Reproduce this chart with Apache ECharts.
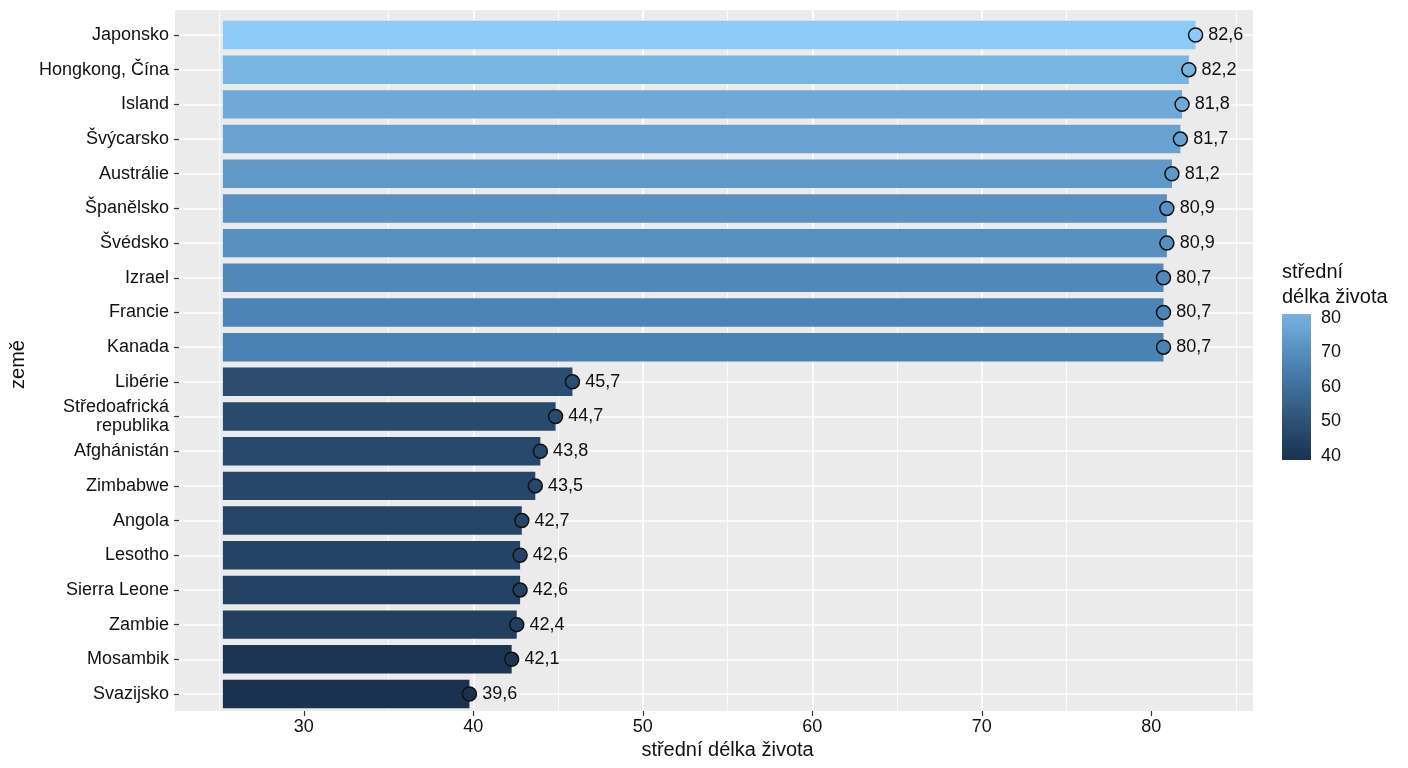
<!DOCTYPE html>
<html>
<head>
<meta charset="utf-8">
<title>střední délka života</title>
<script src="https://cdn.jsdelivr.net/npm/echarts@6/dist/echarts.min.js"></script>
<style>
  html, body { margin: 0; padding: 0; background: #fff; }
  #chart { width: 1408px; height: 768px; }
</style>
</head>
<body>
<div id="chart"></div>
<script>
// data
const countries = ['Japonsko', 'Hongkong, Čína', 'Island', 'Švýcarsko', 'Austrálie', 'Španělsko',
  'Švédsko', 'Izrael', 'Francie', 'Kanada', 'Libérie', 'Středoafrická\nrepublika', 'Afghánistán',
  'Zimbabwe', 'Angola', 'Lesotho', 'Sierra Leone', 'Zambie', 'Mosambik', 'Svazijsko']
const lifeExp = [82.6, 82.2, 81.8, 81.7, 81.2, 80.9, 80.9, 80.7, 80.7, 80.7,
  45.7, 44.7, 43.8, 43.5, 42.7, 42.6, 42.6, 42.4, 42.1, 39.6]
// fill value of each bar, estimated from its colour against the legend
const barFill = [88.4, 81.9, 78.4, 76.0, 73.3, 71.1, 70.3, 68.1, 66.6, 65.9,
  48.2, 47.2, 46.5, 46.1, 45.4, 44.9, 44.0, 43.3, 39.2, 38.5]
const xTicks = [30, 40, 50, 60, 70, 80]
const legendTicks = [40, 50, 60, 70, 80]
const legendRange = [38.7, 81.2]
const barStart = 25

// layout
const font = 'Liberation Sans, Arial, Helvetica, sans-serif'
const textColor = '#111'
const plotLeft = 175, plotRight = 1253
const xMin = 22.4, xMax = 86
const pxPerUnit = (plotRight - plotLeft) / (xMax - xMin)
const axisMin = 20, axisMax = 90
const axisLeft = plotLeft - (xMin - axisMin) * pxPerUnit
const axisWidth = (axisMax - axisMin) * pxPerUnit

// colour ramp, interpolated in Lab
const rampStops = [[38.7, '#1A3350'], [66, '#4A82B3'], [82, '#78B5E2'], [88.4, '#8DCBF6']]
function hexToRgb(h) { return [1, 3, 5].map(i => parseInt(h.substr(i, 2), 16)) }
function toLin(c) { c /= 255; return c <= 0.04045 ? c / 12.92 : Math.pow((c + 0.055) / 1.055, 2.4) }
function fromLin(c) {
  const v = c <= 0.0031308 ? 12.92 * c : 1.055 * Math.pow(Math.max(c, 0), 1 / 2.4) - 0.055
  return Math.round(Math.max(0, Math.min(1, v)) * 255)
}
function rgbToLab(rgb) {
  const [r, g, b] = rgb.map(toLin)
  const x = (0.4124 * r + 0.3576 * g + 0.1805 * b) / 0.95047
  const y = 0.2126 * r + 0.7152 * g + 0.0722 * b
  const z = (0.0193 * r + 0.1192 * g + 0.9505 * b) / 1.08883
  const f = t => t > 0.008856 ? Math.cbrt(t) : 7.787 * t + 16 / 116
  const fx = f(x), fy = f(y), fz = f(z)
  return [116 * fy - 16, 500 * (fx - fy), 200 * (fy - fz)]
}
function labToRgb(lab) {
  const fy = (lab[0] + 16) / 116, fx = fy + lab[1] / 500, fz = fy - lab[2] / 200
  const inv = t => t * t * t > 0.008856 ? t * t * t : (t - 16 / 116) / 7.787
  const x = inv(fx) * 0.95047, y = inv(fy), z = inv(fz) * 1.08883
  const r = 3.2406 * x - 1.5372 * y - 0.4986 * z
  const g = -0.9689 * x + 1.8758 * y + 0.0415 * z
  const b = 0.0557 * x - 0.2040 * y + 1.0570 * z
  return [r, g, b].map(fromLin)
}
const rampLab = rampStops.map(s => [s[0], rgbToLab(hexToRgb(s[1]))])
function fillColor(v) {
  let k = 0
  while (k < rampLab.length - 2 && v > rampLab[k + 1][0]) k++
  const [v0, l0] = rampLab[k], [v1, l1] = rampLab[k + 1]
  const t = (v - v0) / (v1 - v0)
  const rgb = labToRgb(l0.map((c, i) => c + (l1[i] - c) * t))
  return 'rgb(' + rgb.join(',') + ')'
}

const rows = lifeExp.map((v, i) => [v, i, barFill[i]])

const chart = echarts.init(document.getElementById('chart'))
chart.setOption({
  animation: false,
  textStyle: { fontFamily: font },
  title: {
    text: 'střední\ndélka života',
    left: 1282,
    top: 260,
    padding: 0,
    textStyle: { fontFamily: font, fontSize: 20, fontWeight: 'normal', lineHeight: 25, color: textColor }
  },
  grid: [
    { left: plotLeft, right: 1408 - plotRight, top: 35, bottom: 74 },
    { left: plotLeft, right: 1408 - plotRight, top: 10, bottom: 57, show: true, backgroundColor: '#EBEBEB', borderWidth: 0 },
    { left: axisLeft, width: axisWidth, top: 10, bottom: 57 },
    { left: 1282, width: 29, top: 314, height: 146 }
  ],
  xAxis: [
    { gridIndex: 0, type: 'value', min: xMin, max: xMax, show: false },
    { gridIndex: 1, type: 'value', show: false },
    {
      gridIndex: 2, type: 'value', min: axisMin, max: axisMax, interval: 10,
      axisLine: { show: false },
      axisTick: { customValues: xTicks, length: 5, lineStyle: { color: '#333', width: 1.2 } },
      axisLabel: { customValues: xTicks, fontSize: 18, color: textColor, margin: 7, fontFamily: font },
      splitLine: { show: true, showMinLine: false, showMaxLine: false, lineStyle: { color: '#fff', width: 1.6 } },
      minorTick: { show: false, splitNumber: 2 },
      minorSplitLine: { show: true, lineStyle: { color: '#fff', width: 0.8 } },
      name: 'střední délka života',
      nameLocation: 'middle',
      nameGap: 27,
      nameTextStyle: { fontSize: 20, color: textColor, fontFamily: font }
    },
    { gridIndex: 3, type: 'category', data: ['bar'], show: false }
  ],
  yAxis: [
    {
      gridIndex: 0, type: 'category', data: countries, inverse: true, boundaryGap: false,
      axisLine: { show: false },
      axisTick: { length: 5, lineStyle: { color: '#333', width: 1.2 } },
      axisLabel: { interval: 0, fontSize: 18, color: textColor, margin: 10, lineHeight: 19, fontFamily: font },
      splitLine: { show: true, lineStyle: { color: '#fff', width: 1.6 } },
      name: 'země',
      nameLocation: 'middle',
      nameGap: 141,
      nameTextStyle: { fontSize: 20, color: textColor, fontFamily: font }
    },
    { gridIndex: 1, type: 'value', show: false },
    { gridIndex: 2, type: 'value', show: false },
    {
      gridIndex: 3, type: 'value', min: legendRange[0], max: legendRange[1], position: 'right', z: 3,
      axisLine: { show: false },
      axisTick: { customValues: legendTicks, inside: true, length: 6, lineStyle: { color: '#fff', width: 1 } },
      axisLabel: { customValues: legendTicks, fontSize: 18, color: textColor, margin: 10, fontFamily: font },
      splitLine: { show: false }
    },
    {
      gridIndex: 3, type: 'value', min: legendRange[0], max: legendRange[1], position: 'left', z: 3,
      axisLine: { show: false },
      axisTick: { customValues: legendTicks, inside: true, length: 6, lineStyle: { color: '#fff', width: 1 } },
      axisLabel: { show: false },
      splitLine: { show: false }
    }
  ],
  series: [
    {
      type: 'custom',
      xAxisIndex: 0,
      yAxisIndex: 0,
      data: rows,
      encode: { x: 0, y: 1 },
      renderItem: function (params, api) {
        const i = api.value(1)
        const p0 = api.coord([barStart, i])
        const p1 = api.coord([api.value(0), i])
        const h = api.size([0, 1])[1] * 0.82
        return {
          type: 'rect',
          shape: { x: p0[0], y: p0[1] - h / 2, width: p1[0] - p0[0], height: h },
          style: { fill: fillColor(api.value(2)) }
        }
      }
    },
    {
      type: 'scatter',
      xAxisIndex: 0,
      yAxisIndex: 0,
      clip: false,
      data: rows,
      encode: { x: 0, y: 1 },
      symbol: 'circle',
      symbolSize: 14,
      itemStyle: {
        color: p => fillColor(p.data[2]),
        borderColor: '#111',
        borderWidth: 1.5,
        opacity: 1
      },
      label: {
        show: true,
        position: 'right',
        distance: 5,
        formatter: p => p.data[0].toFixed(1).replace('.', ','),
        fontSize: 18,
        color: textColor,
        fontFamily: font
      }
    },
    {
      // legend colour bar
      type: 'custom',
      xAxisIndex: 3,
      yAxisIndex: 3,
      data: [[0, legendRange[0], legendRange[1]]],
      encode: { x: 0, y: [1, 2] },
      renderItem: function (params, api) {
        const top = api.coord([api.value(0), api.value(2)])
        const bottom = api.coord([api.value(0), api.value(1)])
        const w = api.size([1, 0])[0]
        const stops = []
        for (let k = 0; k <= 10; k++) {
          const v = legendRange[0] + (legendRange[1] - legendRange[0]) * k / 10
          stops.push({ offset: k / 10, color: fillColor(v) })
        }
        return {
          type: 'rect',
          shape: { x: top[0] - w / 2, y: top[1], width: w, height: bottom[1] - top[1] },
          style: { fill: { type: 'linear', x: 0, y: 1, x2: 0, y2: 0, colorStops: stops } }
        }
      }
    }
  ]
})
</script>
</body>
</html>
